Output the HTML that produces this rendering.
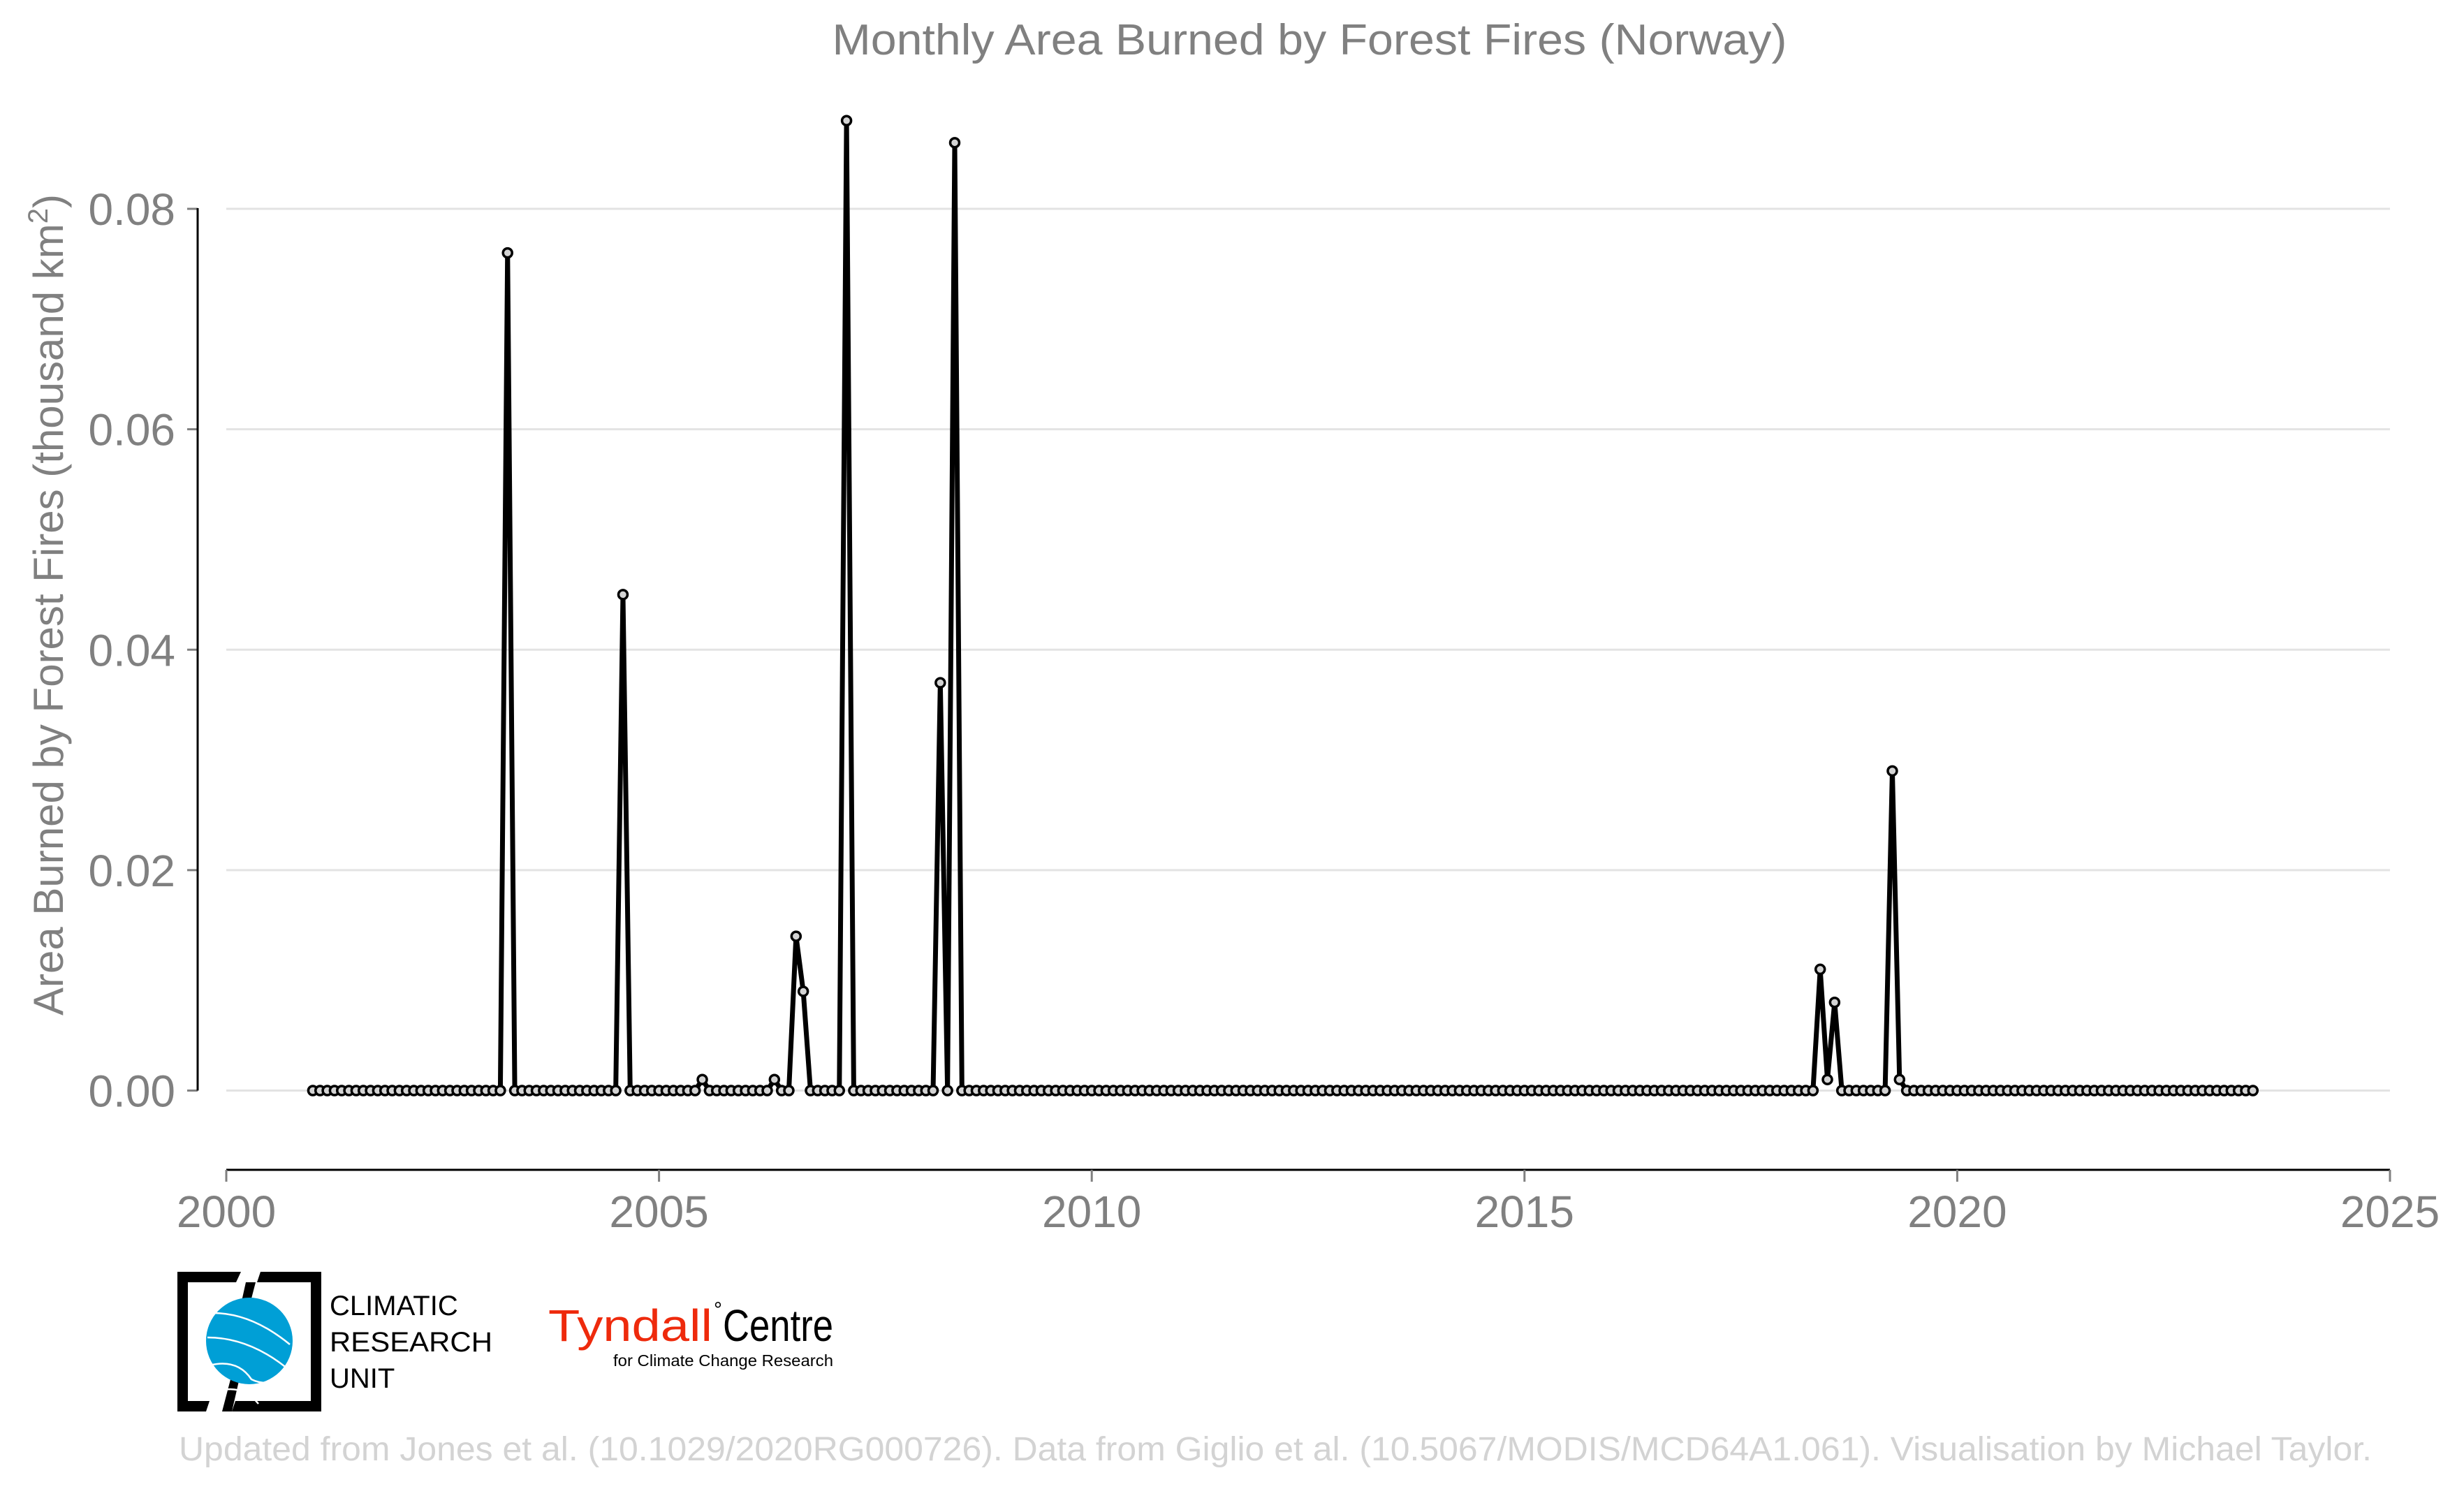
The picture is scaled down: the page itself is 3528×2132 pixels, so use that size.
<!DOCTYPE html>
<html><head><meta charset="utf-8"><style>
html,body{margin:0;padding:0;background:#fff;}
svg{display:block;font-family:"Liberation Sans",sans-serif;}
</style></head><body>
<svg id="chart" width="3528" height="2132" viewBox="0 0 3528 2132">
<text x="1875" y="78" text-anchor="middle" font-size="62" fill="#808080" textLength="1367" lengthAdjust="spacingAndGlyphs">Monthly Area Burned by Forest Fires (Norway)</text>
<g id="grid"></g>
<g id="axes"></g>
<text transform="translate(90,866) rotate(-90)" text-anchor="middle" font-size="60" fill="#808080">Area Burned by Forest Fires (thousand km<tspan dy="-22" font-size="40">2</tspan><tspan dy="22">)</tspan></text>
<g id="series"></g>
<g>
<path d="M254 1821 H345 L338 1836 H269 V2006 H300 L295 2021 H254 Z" fill="#000"/>
<path d="M460 1821 H373 L368 1836 H445 V2006 H337 L332 2021 H460 Z" fill="#000"/>
<path d="M352 1836 L340 1890 L352 1890 L366 1836 Z" fill="#000"/>
<path d="M334 1960 L318 2021 L332 2021 L346 1960 Z" fill="#000"/>
<ellipse cx="357" cy="1920" rx="62" ry="62" fill="#009fd6"/>
<path d="M305 1880 Q360 1880 415 1925 M297 1915 Q360 1915 418 1965 M300 1955 Q340 1945 360 1975 Q380 1985 405 1975 M320 1990 Q350 1985 370 2010" stroke="#fff" stroke-width="2.5" fill="none"/>
<text x="472" y="1883" font-size="40" fill="#000">CLIMATIC</text>
<text x="472" y="1935" font-size="40" fill="#000" textLength="233" lengthAdjust="spacingAndGlyphs">RESEARCH</text>
<text x="472" y="1987" font-size="40" fill="#000">UNIT</text>
</g>
<g>
<text x="785" y="1920" font-size="64" fill="#ee2a0c" textLength="235" lengthAdjust="spacingAndGlyphs">Tyndall</text>
<text x="1022" y="1885" font-size="30" fill="#000">°</text>
<text x="1035" y="1920" font-size="64" fill="#000" textLength="158" lengthAdjust="spacingAndGlyphs">Centre</text>
<text x="878" y="1956" font-size="23" fill="#000" textLength="315" lengthAdjust="spacingAndGlyphs">for Climate Change Research</text>
</g>
<text x="256" y="2091" font-size="48" fill="#d3d3d3" textLength="3140" lengthAdjust="spacingAndGlyphs">Updated from Jones et al. (10.1029/2020RG000726). Data from Giglio et al. (10.5067/MODIS/MCD64A1.061). Visualisation by Michael Taylor.</text>
</svg>
<script>
const startYear = 2001;
const nMonths = 270;
// nonzero months: [year, month, value]; all other months are 0
const peakYears  = [2003, 2004, 2005, 2006, 2006, 2006, 2007, 2008, 2008, 2018, 2018, 2018, 2019, 2019];
const peakMonths = [4,    8,    7,    5,    8,    9,    3,    4,    6,    6,    7,    8,    4,    5];
const peakValues = [0.076,0.045,0.001,0.001,0.014,0.009,0.088,0.037,0.086,0.011,0.001,0.008,0.029,0.001];
const yTicks = [0, 0.02, 0.04, 0.06, 0.08];
const yTickLabels = ["0.00", "0.02", "0.04", "0.06", "0.08"];
const xTicks = [2000, 2005, 2010, 2015, 2020, 2025];

const NS = "http://www.w3.org/2000/svg";
const X0 = 324, X1 = 3422, Y0 = 1561.5, Y1 = 299;
const xS = t => X0 + (t - 2000) / 25 * (X1 - X0);
const yS = v => Y0 - v / 0.08 * (Y0 - Y1);
function mk(tag, attrs, parent){const e=document.createElementNS(NS,tag);for(const k in attrs)e.setAttribute(k,attrs[k]);parent.appendChild(e);return e;}

const grid = document.getElementById('grid');
const axes = document.getElementById('axes');
yTicks.forEach((v,i)=>{
  const g = mk('line',{x1:X0,x2:X1,y1:yS(v),y2:yS(v),stroke:'#e3e3e3','stroke-width':3},grid);
  
  
  const t = mk('line',{x1:268,x2:283,y1:yS(v),y2:yS(v),stroke:'#808080','stroke-width':3},axes);
  
  
  const l = mk('text',{x:251,y:yS(v)+23,'text-anchor':'end','font-size':64,fill:'#808080'},axes);
  l.textContent = yTickLabels[i];
  
  
});
const ya = mk('line',{x1:283,x2:283,y1:Y1-1,y2:Y0,stroke:'#000','stroke-width':3},axes);


const xa = mk('line',{x1:X0,x2:X1,y1:1675,y2:1675,stroke:'#000','stroke-width':3},axes);


xTicks.forEach(y=>{
  const t = mk('line',{x1:xS(y),x2:xS(y),y1:1675,y2:1692,stroke:'#808080','stroke-width':3},axes);
  
  
  const l = mk('text',{x:xS(y),y:1757,'text-anchor':'middle','font-size':64,fill:'#808080'},axes);
  l.textContent = y;
  
  
});

const values = new Array(nMonths).fill(0);
peakYears.forEach((y,i)=>{ const idx=(y-startYear)*12+peakMonths[i]-1; if(idx>=0&&idx<nMonths) values[idx]=peakValues[i]; });
const series = document.getElementById('series');
const pts = values.map((v,i)=>[xS(startYear + i/12), yS(v)]);
const path = mk('polyline',{points:pts.map(p=>p.join(',')).join(' '),fill:'none',stroke:'#000','stroke-width':7,'stroke-linejoin':'miter','stroke-miterlimit':4},series);


pts.forEach(p=>{
  const c = mk('circle',{cx:p[0],cy:p[1],r:6.5,fill:'#d3d3d3',stroke:'#000','stroke-width':3.5},series);
  
  
});
</script>
</body></html>
